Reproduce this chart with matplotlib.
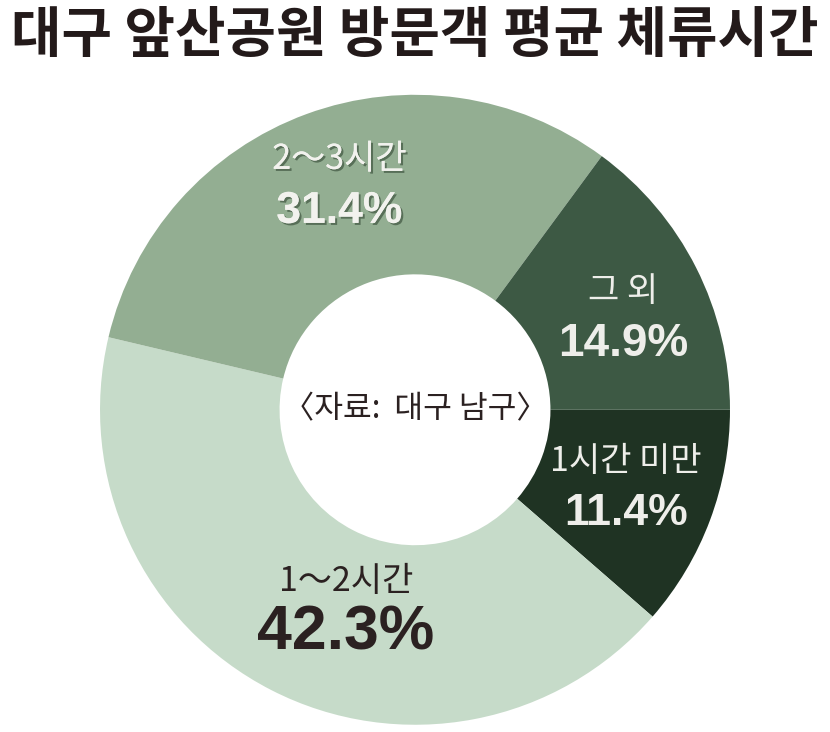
import matplotlib
matplotlib.use('Agg')
import matplotlib.pyplot as plt
import matplotlib.patheffects as pe

plt.rcParams['font.family'] = ['Noto Sans CJK KR', 'DejaVu Sans']

# data
categories = ['1시간 미만', '1～2시간', '2～3시간', '그 외']
shares = [11.4, 42.3, 31.4, 14.9]
colors = ['#1f3323', '#c6dbc9', '#93ae92', '#3d5944']
txt_colors = ['#eeeeea', '#2b2121', '#f2f2ee', '#eeeeea']
# label centres in axes data units (pie radius = 1)
label_pos = [(0.67, -0.25), (-0.22, -0.63), (-0.24, 0.71), (0.66, 0.29)]
pct_size = [32, 45, 32, 33]

fig = plt.figure(figsize=(8.3, 7.32), dpi=100)
ax = fig.add_axes([0.5 - 0.3795, 0.44 - 0.4303, 0.759, 0.861])

ax.pie(shares, colors=colors, startangle=0, counterclock=False, radius=1.0,
       wedgeprops=dict(width=0.57, edgecolor='none'))
ax.set_xlim(-1, 1); ax.set_ylim(-1, 1)
ax.set_aspect('equal')
ax.axis('off')

shadow = [pe.withSimplePatchShadow(offset=(1.5, -1.5), shadow_rgbFace='#3f5540', alpha=0.7), pe.Normal()]

for cat, val, (x, y), tc, ps in zip(categories, shares, label_pos, txt_colors, pct_size):
    eff = shadow if cat == '2～3시간' else None
    ax.text(x, y + 0.085, cat, ha='center', va='center', fontsize=24.5,
            color=tc, path_effects=eff)
    ax.text(x, y - 0.08, f'{val}%', ha='center', va='center', fontsize=ps,
            fontweight='bold', color=tc, family=['Liberation Sans', 'DejaVu Sans'],
            path_effects=eff)

ax.text(0, 0.0, '〈자료:  대구 남구〉', ha='center', va='center', fontsize=22.5, color='#2b2121')

fig.text(0.5, 0.952, '대구 앞산공원 방문객 평균 체류시간', ha='center', va='center',
         fontsize=39.5, fontweight='heavy', color='#231a1a')

fig.savefig('out.png', dpi=100, facecolor='white')
